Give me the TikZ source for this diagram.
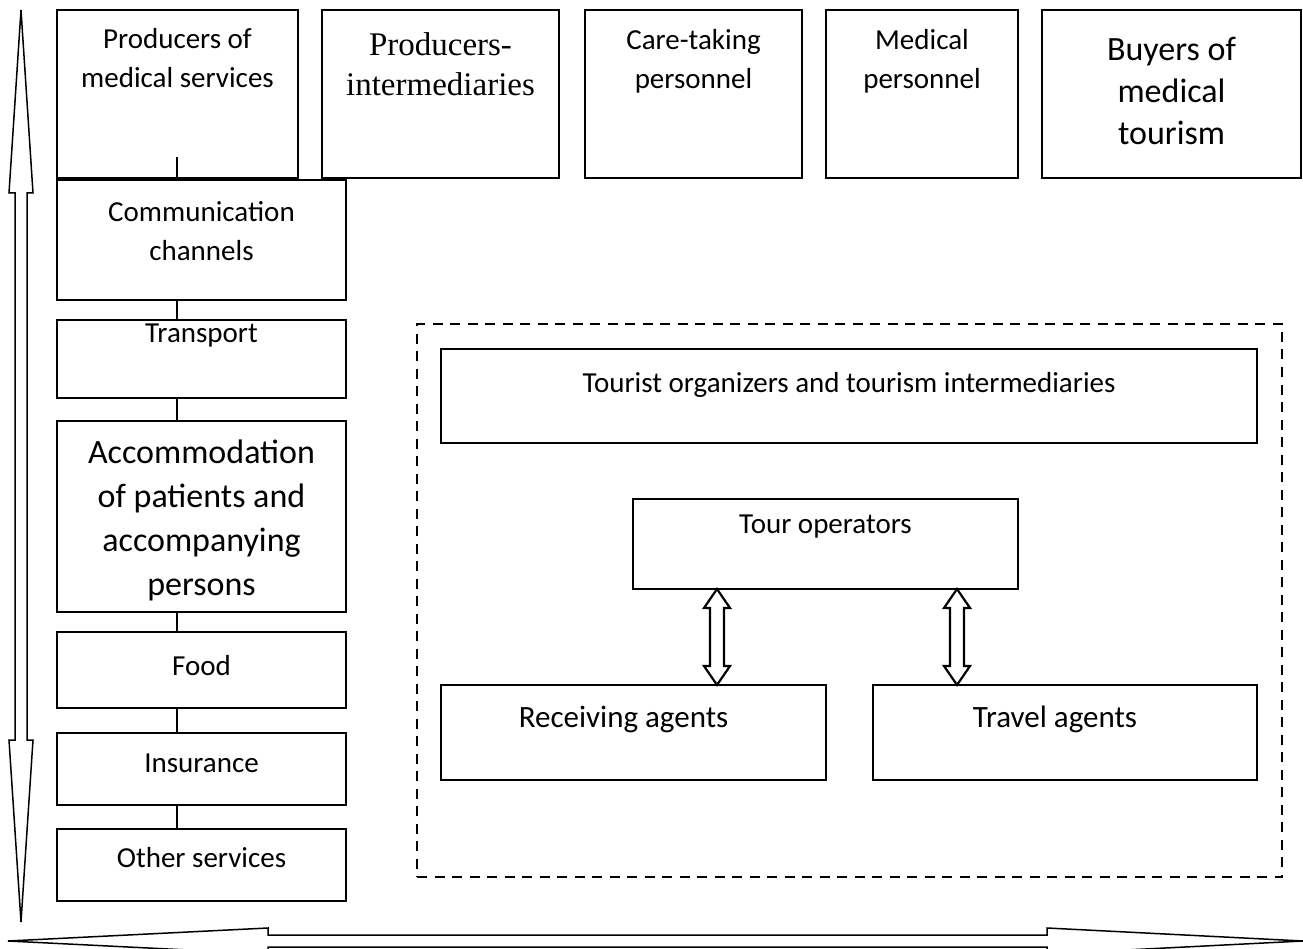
\documentclass[tikz,border=0pt]{standalone}
\usepackage{fontspec}
\setmainfont{Carlito}
\newfontfamily\tnrfont{Liberation Serif}
\usetikzlibrary{calc}
\newcommand\mystrut{\rule{0pt}{30pt}}
\newcommand\mybox[6]{\node[#6, anchor=north west, minimum width={#4pt-#2pt}, minimum height={#5pt-#3pt}] (#1) at (#2,#3) {};}
\begin{document}
\begin{tikzpicture}[x=1pt,y=-1pt,
  bx/.style={draw, line width=2.4pt, rectangle, inner sep=0pt, outer sep=0pt},
  ib/.style={draw, line width=1.6pt, rectangle, inner sep=0pt, outer sep=0pt},
  dbox/.style={draw, line width=2.4pt, dash pattern=on 10pt off 7.5pt, rectangle, inner sep=0pt, outer sep=0pt},
  tx/.style={anchor=north, yshift=30pt, inner sep=0pt, align=center, font=\fontsize{29}{39}\selectfont},
  txbig/.style={tx, font=\fontsize{34}{42}\selectfont},
  txserif/.style={tx, font=\tnrfont\fontsize{33}{40}\selectfont},
  conn/.style={line width=1.3pt},
  hollow/.style={draw, line width=1.5pt, fill=white, line join=miter},
  hollowb/.style={draw, line width=2.2pt, fill=white, line join=miter}
]
\useasboundingbox (0,0) rectangle (1303,949);

% top row
\mybox{prod}{57}{10}{298}{178}{bx}
\mybox{pint}{322}{10}{559}{178}{bx}
\mybox{care}{585}{10}{802}{178}{bx}
\mybox{med}{826}{10}{1018}{178}{bx}
\mybox{buy}{1042}{10}{1301}{178}{bx}
\node[tx] (prodT) at (prod.north |- 0,48) {\mystrut Producers of\\medical services};
\node[txserif] (pintT) at (pint.north |- 0,55) {\mystrut Producers-\\intermediaries};
\node[tx] (careT) at (care.north |- 0,49) {\mystrut Care-taking\\personnel};
\node[tx] (medT) at (med.north |- 0,49) {\mystrut Medical\\personnel};
\node[txbig] (buyT) at (buy.north |- 0,60) {\mystrut Buyers of\\medical\\tourism};

% left column
\mybox{comm}{57}{180}{346}{300}{bx}
\mybox{trans}{57}{320}{346}{398}{bx}
\mybox{acc}{57}{421}{346}{612}{bx}
\mybox{food}{57}{632}{346}{708}{bx}
\mybox{ins}{57}{733}{346}{805}{bx}
\mybox{oth}{57}{829}{346}{901}{bx}
\node[tx] (commT) at (comm.north |- 0,221) {\mystrut Communication\\channels};
\node[tx] (transT) at (trans.north |- 0,342) {\mystrut Transport};
\node[txbig, font=\fontsize{34}{44}\selectfont] (accT) at (acc.north |- 0,463) {\mystrut Accommodation\\of patients and\\accompanying\\persons};
\node[tx] (foodT) at (food.north |- 0,675) {\mystrut Food};
\node[tx] (insT) at (ins.north |- 0,772) {\mystrut Insurance};
\node[tx] (othT) at (oth.north |- 0,867) {\mystrut Other services};

% column connectors
\coordinate (cx) at (177,0);
\coordinate (prodTick) at (177,157);
\draw[conn] (comm.north -| cx) -- (prodTick);
\draw[conn] (comm.south -| cx) -- (trans.north -| cx);
\draw[conn] (trans.south -| cx) -- (acc.north -| cx);
\draw[conn] (acc.south -| cx) -- (food.north -| cx);
\draw[conn] (food.south -| cx) -- (ins.north -| cx);
\draw[conn] (ins.south -| cx) -- (oth.north -| cx);

% dashed group
\mybox{grp}{417}{324}{1282}{877}{dbox}
\mybox{org}{441}{349}{1257}{443}{ib}
\mybox{tourop}{633}{499}{1018}{589}{ib}
\mybox{recv}{441}{685}{826}{780}{ib}
\mybox{trav}{873}{685}{1257}{780}{ib}
\node[tx] (orgT) at (org.north |- 0,392) {\mystrut Tourist organizers and tourism intermediaries};
\node[tx] (tourT) at (tourop.north |- 0,533) {\mystrut Tour operators};
\node[tx, font=\fontsize{31}{39}\selectfont, xshift=-10pt] (recvT) at (recv.north |- 0,727) {\mystrut Receiving agents};
\node[tx, font=\fontsize{31}{39}\selectfont, xshift=-10pt] (travT) at (trav.north |- 0,727) {\mystrut Travel agents};

% double arrows between tour operators and agents
\coordinate (a1t) at (717,589);
\coordinate (a1b) at (recv.north -| a1t);
\coordinate (a2t) at (957,589);
\coordinate (a2b) at (trav.north -| a2t);
\foreach \t/\b in {a1t/a1b, a2t/a2b}{
  \draw[hollowb] (\t) -- ++(-13,19) -- ++(6,0) |- ($(\b)+(-7,-19)$) -- ++(-6,0) -- (\b)
     -- ++(13,-19) -- ++(-6,0) |- ($(\t)+(7,19)$) -- ++(6,0) -- cycle;
}

% left vertical double arrow
\draw[hollow] (21,10) -- (33,193) -- (27,193) -- (27,740) -- (33,740) -- (21,922)
   -- (9,740) -- (15,740) -- (15,193) -- (9,193) -- cycle;
% bottom horizontal double arrow
\draw[hollow] (8,941) -- (268,928) -- (268,935) -- (1047,935) -- (1047,928) -- (1303,941)
   -- (1047,954) -- (1047,947) -- (268,947) -- (268,954) -- cycle;
\end{tikzpicture}
\end{document}
